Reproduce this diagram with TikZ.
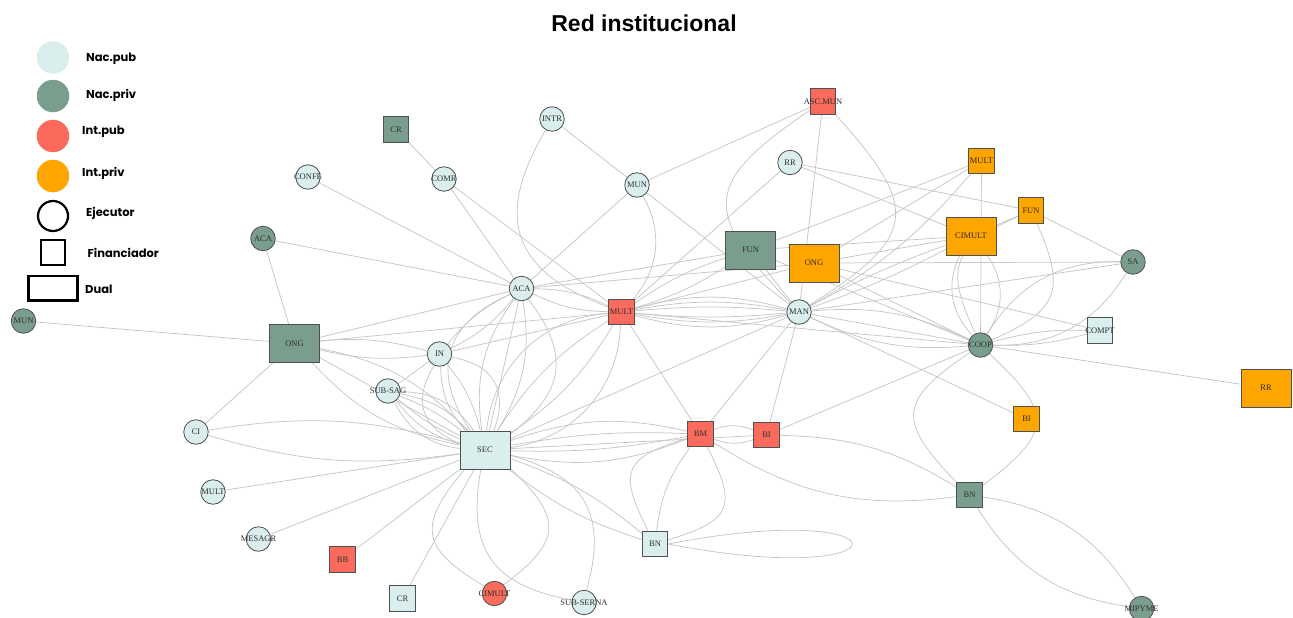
\documentclass[tikz,border=0pt]{standalone}
\usepackage{fontspec}
\setmainfont{Liberation Serif}
\newfontfamily\titlefont{Liberation Sans}
\newfontfamily\legfont{Poppins}
\usetikzlibrary{backgrounds}
\definecolor{nacpub}{HTML}{DAEEEE}
\definecolor{nacpriv}{HTML}{7A9E8D}
\definecolor{intpub}{HTML}{FA6B5E}
\definecolor{intpriv}{HTML}{FFA500}
\definecolor{edgecol}{HTML}{C6C6C6}
\definecolor{nodeline}{HTML}{505050}
\definecolor{labeltxt}{HTML}{2E2E2E}
\newcommand\zw[1]{\makebox[0pt][c]{#1}}
\begin{document}
\begin{tikzpicture}[x=1pt,y=-1pt,
 nbase/.style={draw=nodeline,line width=0.8pt,inner sep=0pt,font=\fontsize{8.5}{8.5}\selectfont,text=labeltxt},
 circ/.style={nbase,circle,minimum size=24.5pt},
 sqr/.style={nbase,rectangle,minimum width=25.5pt,minimum height=25.5pt},
 dual/.style={nbase,rectangle,minimum width=50pt,minimum height=38pt},
 npub/.style={fill=nacpub}, npriv/.style={fill=nacpriv},
 ipub/.style={fill=intpub}, ipriv/.style={fill=intpriv},
 lnk/.style={draw=edgecol,line width=0.75pt},
 bigl/.style={bend left=50,looseness=1.7},
 bigr/.style={bend right=50,looseness=1.7},
 legtxt/.style={font=\legfont\bfseries\fontsize{11.5}{11.5}\selectfont,anchor=base west,inner sep=0pt},
]
\useasboundingbox (0,0) rectangle (1293,618);
% title
\node[font=\titlefont\bfseries\fontsize{23}{23}\selectfont,anchor=base,inner sep=0pt] (title) at (644,31.5) {Red institucional};
% legend
\node[circle,fill=nacpub,minimum size=32.5pt,inner sep=0pt] (lg1) at (53,57.5) {};
\node[circle,fill=nacpriv,minimum size=32.5pt,inner sep=0pt] (lg2) at (53,96) {};
\node[circle,fill=intpub,minimum size=32.5pt,inner sep=0pt] (lg3) at (53,136) {};
\node[circle,fill=intpriv,minimum size=32.5pt,inner sep=0pt] (lg4) at (53,176) {};
\node[circle,draw=black,line width=2.2pt,minimum size=30pt,inner sep=0pt] (lg5) at (53,216) {};
\node[rectangle,draw=black,line width=2.2pt,minimum width=24pt,minimum height=25pt,inner sep=0pt] (lg6) at (53,252.7) {};
\node[rectangle,draw=black,line width=2.2pt,minimum width=49pt,minimum height=24.5pt,inner sep=0pt] (lg7) at (53,288.3) {};
\node[legtxt] (t1) at (86,61.7) {Nac.pub};
\node[legtxt] (t2) at (86,98.3) {Nac.priv};
\node[legtxt] (t3) at (82,134.3) {Int.pub};
\node[legtxt] (t4) at (82,176.7) {Int.priv};
\node[legtxt] (t5) at (86,216.7) {Ejecutor};
\node[legtxt] (t6) at (87.5,257.3) {Financiador};
\node[legtxt] (t7) at (85,293.3) {Dual};
% nodes
\node[circ,npub] (INTR) at (552,119) {\zw{INTR}};
\node[circ,npub] (CONFE) at (308,177) {\zw{CONFE}};
\node[circ,npub] (COMR) at (444,179) {\zw{COMR}};
\node[sqr,npriv] (CRT) at (396,129.5) {\zw{CR}};
\node[circ,npriv] (ACAL) at (263,238.5) {\zw{ACA}};
\node[circ,npub] (MUNT) at (637,185) {\zw{MUN}};
\node[circ,npub] (RRT) at (790,162.5) {\zw{RR}};
\node[sqr,ipub] (ASCMUN) at (823,101.5) {\zw{ASC.MUN}};
\node[sqr,ipriv] (MULTT) at (981.5,161) {\zw{MULT}};
\node[sqr,ipriv] (FUNS) at (1031,210.5) {\zw{FUN}};
\node[dual,npriv] (FUN) at (750.5,250) {\zw{FUN}};
\node[dual,ipriv] (ONGO) at (814,263) {\zw{ONG}};
\node[dual,ipriv] (CIMULT) at (971,236) {\zw{CIMULT}};
\node[circ,npriv] (SA) at (1133,262) {\zw{SA}};
\node[circ,npub] (ACAC) at (521.5,288.5) {\zw{ACA}};
\node[sqr,ipub] (MULTC) at (621.5,312) {\zw{MULT}};
\node[circ,npub] (MAN) at (799,312) {\zw{MAN}};
\node[circ,npriv] (COOP) at (980.5,345) {\zw{COOP}};
\node[sqr,npub] (COMPT) at (1100,330.5) {\zw{COMPT}};
\node[circ,npriv] (MUNL) at (23.5,321) {\zw{MUN}};
\node[dual,npriv] (ONGL) at (294.5,343.5) {\zw{ONG}};
\node[circ,npub] (IN) at (439.5,354) {\zw{IN}};
\node[circ,npub] (SUBSAG) at (388,391) {\zw{SUB-SAG}};
\node[dual,ipriv] (RRR) at (1266,388) {\zw{RR}};
\node[circ,npub] (CI) at (196,432) {\zw{CI}};
\node[dual,npub] (SEC) at (485,450) {\zw{SEC}};
\node[sqr,ipub] (BM) at (700.5,434) {\zw{BM}};
\node[sqr,ipub] (BIR) at (766.5,435) {\zw{BI}};
\node[sqr,ipriv] (BIO) at (1026.5,419) {\zw{BI}};
\node[circ,npub] (MULTL) at (213,492) {\zw{MULT}};
\node[sqr,npriv] (BNR) at (969.5,495) {\zw{BN}};
\node[circ,npub] (MESAGR) at (258.5,539) {\zw{MESAGR}};
\node[sqr,npub] (BNC) at (655,544) {\zw{BN}};
\node[sqr,ipub] (BB) at (342.5,559.5) {\zw{BB}};
\node[sqr,npub] (CRB) at (402.5,598.5) {\zw{CR}};
\node[circ,ipub] (CIMULTB) at (494.5,593.5) {\zw{CIMULT}};
\node[circ,npub] (SUBSERNA) at (584,602.5) {\zw{SUB-SERNA}};
\node[circ,npriv] (MIPYME) at (1141.5,608.5) {\zw{MIPYME}};
% edges
\begin{scope}[on background layer]
\draw[lnk] (MUNL) -- (ONGL);
\draw[lnk] (ACAL) -- (ONGL);
\draw[lnk] (ACAL) -- (ACAC);
\draw[lnk] (CONFE) -- (ACAC);
\draw[lnk] (CRT) -- (COMR);
\draw[lnk] (COMR) -- (ACAC);
\draw[lnk] (COMR) -- (MULTC);
\draw[lnk] (INTR) -- (MUNT);
\draw[lnk] (INTR) to[bend right=50,looseness=1.4] (MULTC);
\draw[lnk] (MUNT) -- (ACAC);
\draw[lnk] (MUNT) -- (ASCMUN);
\draw[lnk] (MUNT) to[bend left=35] (MULTC);
\draw[lnk] (MUNT) -- (MAN);
\draw[lnk] (ASCMUN) -- (MAN);
\draw[lnk] (ASCMUN) to[bigl] (MAN);
\draw[lnk] (ASCMUN) to[bigr] (MAN);
\draw[lnk] (ONGL) -- (CI);
\draw[lnk] (ONGL) -- (ACAC);
\draw[lnk] (ONGL) -- (MULTC);
\draw[lnk] (ONGL) to[bend left=10] (IN);
\draw[lnk] (ONGL) to[bend right=10] (IN);
\draw[lnk] (ONGL) -- (SEC);
\draw[lnk] (ONGL) to[bend left=18] (SEC);
\draw[lnk] (ONGL) to[bend right=18] (SEC);
\draw[lnk] (IN) to[bend left=12] (ACAC);
\draw[lnk] (IN) to[bend right=12] (ACAC);
\draw[lnk] (IN) -- (MULTC);
\draw[lnk] (IN) -- (SUBSAG);
\draw[lnk] (IN) to[bend left=50,looseness=1.3] (SEC);
\draw[lnk] (IN) to[bend left=12] (SEC);
\draw[lnk] (IN) to[bend right=20] (SEC);
\draw[lnk] (IN) to[bend right=50,looseness=1.3] (SEC);
\draw[lnk] (SUBSAG) to[bend left=8] (SEC);
\draw[lnk] (SUBSAG) to[bend right=8] (SEC);
\draw[lnk] (SUBSAG) to[bend left=18] (SEC);
\draw[lnk] (SUBSAG) to[bend right=18] (SEC);
\draw[lnk] (SUBSAG) to[bend left=28] (SEC);
\draw[lnk] (SUBSAG) to[bend right=28] (SEC);
\draw[lnk] (CI) to[bend left=12] (SEC);
\draw[lnk] (CI) to[bend right=12] (SEC);
\draw[lnk] (MULTL) -- (SEC);
\draw[lnk] (MESAGR) -- (SEC);
\draw[lnk] (BB) -- (SEC);
\draw[lnk] (CRB) -- (SEC);
\draw[lnk] (CIMULTB) to[bend left=50,looseness=1.6] (SEC);
\draw[lnk] (CIMULTB) to[bend right=50,looseness=1.6] (SEC);
\draw[lnk] (SUBSERNA) to[bend left=45,looseness=1.3] (SEC);
\draw[lnk] (SUBSERNA) to[bend right=45,looseness=1.3] (SEC);
\draw[lnk] (SEC) to[bend left=10] (BNC);
\draw[lnk] (SEC) to[bend right=10] (BNC);
\draw[lnk] (SEC) to[bend left=6] (BM);
\draw[lnk] (SEC) to[bend right=6] (BM);
\draw[lnk] (SEC) to[bend left=16] (BM);
\draw[lnk] (SEC) to[bend right=16] (BM);
\draw[lnk] (SEC) -- (BIR);
\draw[lnk] (SEC) -- (MAN);
\draw[lnk] (BM) to[bend left=20] (BIR);
\draw[lnk] (BM) to[bend right=20] (BIR);
\draw[lnk] (BM) to[bigl] (BNC);
\draw[lnk] (BM) to[bend right=15] (BNC);
\draw[lnk] (BM) to[bigr] (BNC);
\draw[lnk] (BM) to[bend right=20] (BNR);
\draw[lnk] (BIR) to[bend left=15] (BNR);
\draw[lnk] (BIR) -- (COOP);
\draw[lnk] (BIR) -- (MAN);
\draw[lnk] (BM) -- (MULTC);
\draw[lnk] (BM) -- (MAN);
\draw[lnk] (SEC) to[bend left=50,looseness=1.3] (ACAC);
\draw[lnk] (SEC) to[bend left=22] (ACAC);
\draw[lnk] (SEC) -- (ACAC);
\draw[lnk] (SEC) to[bend right=20] (ACAC);
\draw[lnk] (SEC) to[bend right=45,looseness=1.3] (ACAC);
\draw[lnk] (SEC) to[bend left=40] (MULTC);
\draw[lnk] (SEC) to[bend left=12] (MULTC);
\draw[lnk] (SEC) to[bend right=12] (MULTC);
\draw[lnk] (SEC) to[bend right=40] (MULTC);
\draw[lnk] (ACAC) -- (FUN);
\draw[lnk] (ACAC) -- (ONGO);
\draw[lnk] (ACAC) to[bend left=12] (MULTC);
\draw[lnk] (ACAC) to[bend right=12] (MULTC);
\draw[lnk] (MULTC) to[bend left=5] (MAN);
\draw[lnk] (MULTC) to[bend right=5] (MAN);
\draw[lnk] (MULTC) to[bend left=10] (MAN);
\draw[lnk] (MULTC) to[bend right=10] (MAN);
\draw[lnk] (MULTC) to[bend left=15] (MAN);
\draw[lnk] (MULTC) to[bend right=15] (MAN);
\draw[lnk] (MULTC) to[bend left=8] (FUN);
\draw[lnk] (MULTC) to[bend right=8] (FUN);
\draw[lnk] (MULTC) -- (ONGO);
\draw[lnk] (MULTC) -- (COOP);
\draw[lnk] (RRT) -- (MULTC);
\draw[lnk] (FUN) -- (MULTT);
\draw[lnk] (ONGO) -- (MULTT);
\draw[lnk] (MULTT) -- (COOP);
\draw[lnk] (MULTT) to[bend left=10] (MAN);
\draw[lnk] (FUNS) -- (CIMULT);
\draw[lnk] (FUNS) -- (SA);
\draw[lnk] (FUNS) to[bend left=45,looseness=1.5] (COOP);
\draw[lnk] (FUNS) to[bend right=45,looseness=1.5] (COOP);
\draw[lnk] (RRT) -- (FUNS);
\draw[lnk] (RRT) -- (CIMULT);
\draw[lnk] (ONGO) -- (SA);
\draw[lnk] (SA) to[bend left=30] (COOP);
\draw[lnk] (SA) to[bend right=30] (COOP);
\draw[lnk] (COMPT) to[bend left=8] (COOP);
\draw[lnk] (COMPT) to[bend right=8] (COOP);
\draw[lnk] (ONGO) -- (COMPT);
\draw[lnk] (COOP) -- (RRR);
\draw[lnk] (MAN) -- (BIO);
\draw[lnk] (COOP) to[bigl] (BNR);
\draw[lnk] (COOP) to[bigr] (BNR);
\draw[lnk] (BNR) to[bend left=25] (MIPYME);
\draw[lnk] (BNR) to[bend right=25] (MIPYME);
\draw[lnk] (MAN) -- (COOP);
\draw[lnk] (MAN) to[bend left=15] (COOP);
\draw[lnk] (MAN) to[bend right=15] (COOP);
\draw[lnk] (ONGO) -- (COOP);
\draw[lnk] (FUN) -- (COOP);
\draw[lnk] (MAN) to[bend left=4] (CIMULT);
\draw[lnk] (MAN) to[bend right=4] (CIMULT);
\draw[lnk] (CIMULT) -- (FUN);
\draw[lnk] (CIMULT) -- (ONGO);
\draw[lnk] (CIMULT) to[bend left=35] (COOP);
\draw[lnk] (CIMULT) to[bend right=35] (COOP);
\draw[lnk] (MAN) -- (SA);
\draw[lnk] (FUN) -- (MAN);
\draw[lnk] (BNC.east) .. controls +(11:250) and +(-11:250) .. (BNC.east);
\end{scope}
\end{tikzpicture}
\end{document}
